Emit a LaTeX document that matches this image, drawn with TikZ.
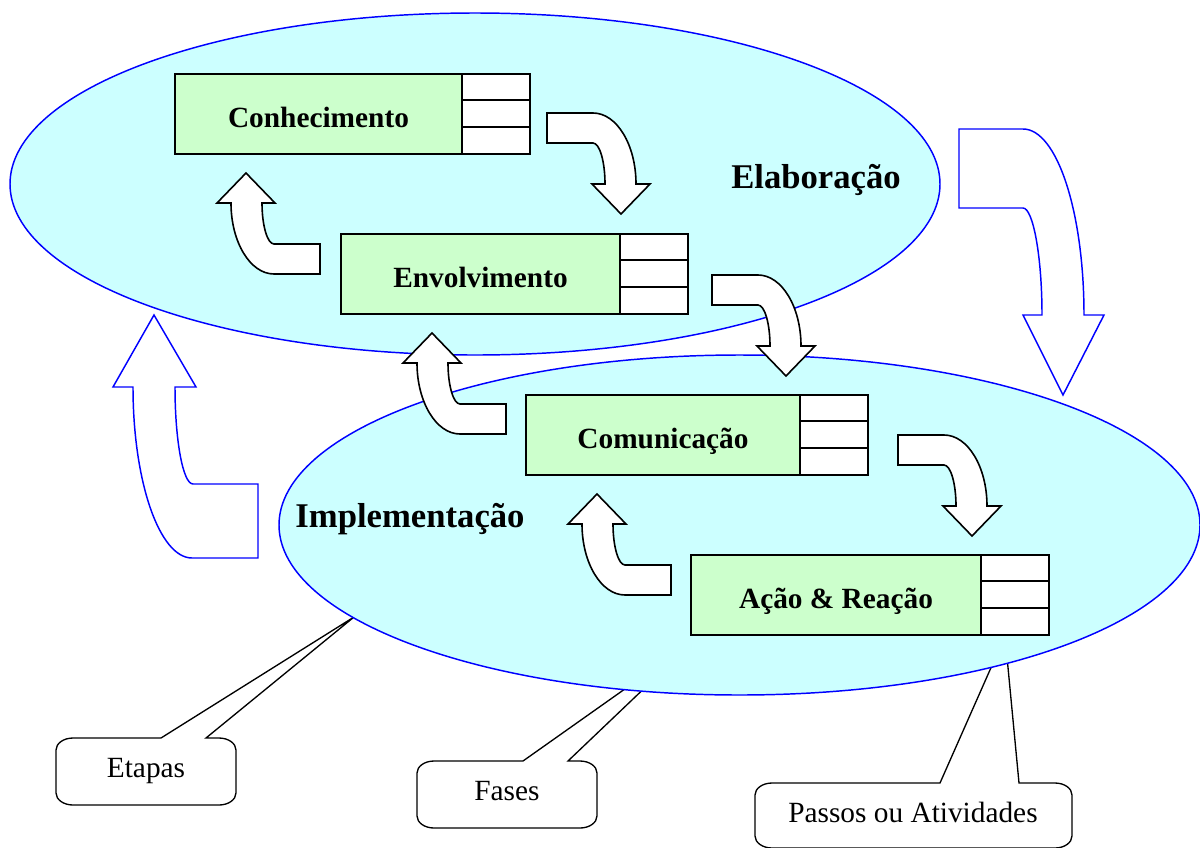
\documentclass[tikz,border=0pt]{standalone}
\usepackage{fontspec}
\setmainfont{Liberation Serif}
\definecolor{phasecyan}{HTML}{CCFFFF}
\definecolor{stagegreen}{HTML}{CCFFCC}
\definecolor{phaseblue}{HTML}{0000FF}

% one stage: green title cell with a three-row white table on its right
% #1 name, #2 left, #3 top, #4 divider x, #5 title
\newcommand\stagebox[5]{%
  \draw[stageline, fill=stagegreen] (#2,#3) rectangle (#4,#3+80);
  \draw[stageline, fill=white] (#4,#3) rectangle (#4+68,#3+80);
  \draw[stageline] (#4,#3+26) -- (#4+68,#3+26) (#4,#3+53) -- (#4+68,#3+53);
  \node[stagetext] (#1) at ({(#2+#4)/2},#3+53) {#5};
}

\begin{document}
\begin{tikzpicture}[x=0.75pt, y=-0.75pt,
  stageline/.style={draw=black, line width=1.3pt},
  stagetext/.style={anchor=base, inner sep=0pt, font=\fontsize{22}{26}\selectfont\bfseries},
  phasetext/.style={anchor=base, inner sep=0pt, font=\fontsize{26}{30}\selectfont\bfseries},
  notetext/.style={anchor=base, inner sep=0pt, font=\fontsize{22}{26}\selectfont},
  phase/.style={draw=phaseblue, line width=1.1pt, fill=phasecyan},
  bigarrow/.style={draw=phaseblue, line width=1.1pt, fill=white},
  blockarrow/.style={draw=black, line width=1.2pt, fill=white, line join=miter},
  calloutline/.style={draw=black, line width=1pt, fill=white},
  bentarrow/.pic={
    \path[blockarrow] (0,0) -- (46,0) .. controls (69.7,0) and (89,31.8) .. (89,71)
      -- (103,71) -- (74,101) -- (45,71) -- (58,71)
      .. controls (58,48.4) and (52.6,30) .. (46,30) -- (0,30) -- cycle;
  }]
\clip (0,0) rectangle (1200,847);
\fill[white] (0,0) rectangle (1200,847);

% callouts (their pointers run under the lower phase)
\path[calloutline] (73,738) -- (161,738) -- (354,617) -- (206,738) -- (219,738)
  .. controls (228.4,738) and (236,743.4) .. (236,750) -- (236,793)
  .. controls (236,799.6) and (228.4,805) .. (219,805) -- (73,805)
  .. controls (63.6,805) and (56,799.6) .. (56,793) -- (56,750)
  .. controls (56,743.4) and (63.6,738) .. (73,738) -- cycle;
\path[calloutline] (434,761) -- (523,761) -- (697,638) -- (568,761) -- (580,761)
  .. controls (589.4,761) and (597,766.4) .. (597,773) -- (597,816)
  .. controls (597,822.6) and (589.4,828) .. (580,828) -- (434,828)
  .. controls (424.6,828) and (417,822.6) .. (417,816) -- (417,773)
  .. controls (417,766.4) and (424.6,761) .. (434,761) -- cycle;
\path[calloutline] (772,783) -- (940,783) -- (1005,636) -- (1019,783) -- (1055,783)
  .. controls (1064.4,783) and (1072,788.4) .. (1072,795) -- (1072,836)
  .. controls (1072,842.6) and (1064.4,848) .. (1055,848) -- (772,848)
  .. controls (762.6,848) and (755,842.6) .. (755,836) -- (755,795)
  .. controls (755,788.4) and (762.6,783) .. (772,783) -- cycle;
\node[notetext] (etapas) at (146,777) {Etapas};
\node[notetext] (fases) at (507,800) {Fases};
\node[notetext] (passos) at (913,822) {Passos ou Atividades};

% the two phases
\path[phase] (475,184) ellipse [x radius=465, y radius=171];
\path[phase] (739.5,525) ellipse [x radius=460.5, y radius=170];
\node[phasetext] (elab) at (816,188) {Elaboração};
\node[phasetext] (impl) at (410,527) {Implementação};

% cycle between the phases
\path[bigarrow] (959,129) -- (1023,129) .. controls (1057,129) and (1084,212) .. (1084,315)
  -- (1104,315) -- (1063,395) -- (1023,315) -- (1042,315)
  .. controls (1042,256) and (1033,208) .. (1023,208) -- (959,208) -- cycle;
\path[bigarrow] (154,315) -- (196,387) -- (175,387)
  .. controls (175,440.5) and (183,484) .. (193,484) -- (258,484) -- (258,558) -- (192,558)
  .. controls (159.4,558) and (133,481.4) .. (133,387) -- (113,387) -- cycle;

% stages
\stagebox{conh}{175}{74}{462}{Conhecimento}
\stagebox{envo}{341}{234}{620}{Envolvimento}
\stagebox{comu}{526}{395}{800}{Comunicação}
\stagebox{acao}{691}{555}{981}{Ação \& Reação}

% forward and backward steps between stages
\coordinate (f1) at (547,113);
\coordinate (f2) at (712,275);
\coordinate (f3) at (898,435);
\coordinate (b1) at (320,274);
\coordinate (b2) at (506,434);
\coordinate (b3) at (671,595);
\pic at (f1) {bentarrow};
\pic at (f2) {bentarrow};
\pic at (f3) {bentarrow};
\pic[rotate=180] at (b1) {bentarrow};
\pic[rotate=180] at (b2) {bentarrow};
\pic[rotate=180] at (b3) {bentarrow};
\end{tikzpicture}
\end{document}
